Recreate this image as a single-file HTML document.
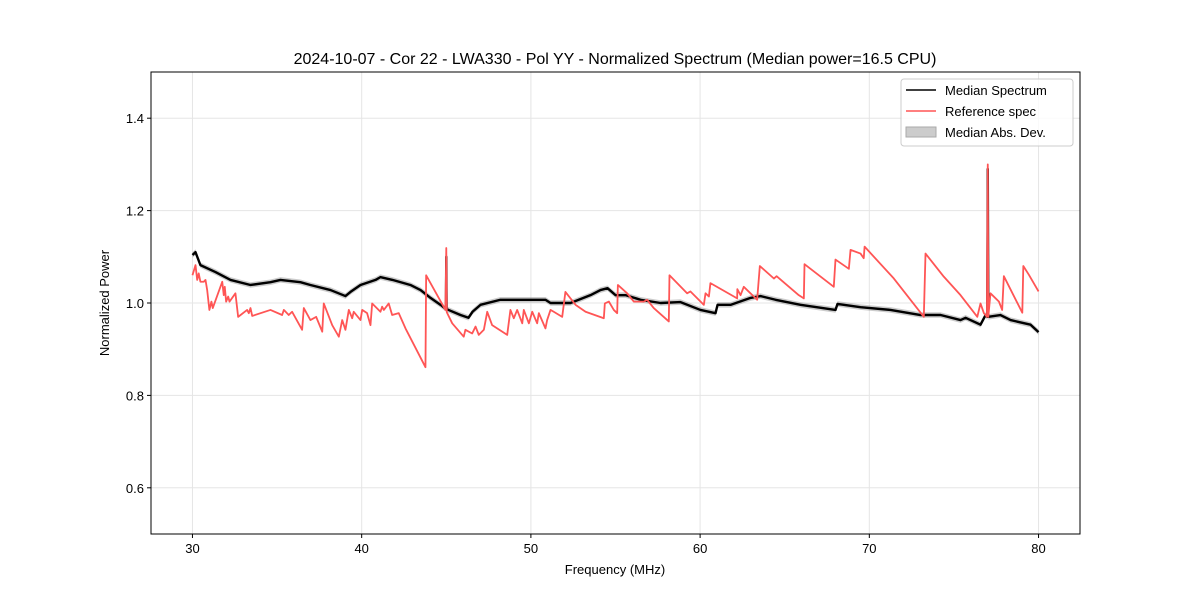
<!DOCTYPE html>
<html><head><meta charset="utf-8"><style>
body{margin:0;background:#fff}
svg text{font-family:"Liberation Sans","DejaVu Sans",sans-serif;fill:#000}
</style></head><body>
<svg id="chart" width="1200" height="600" viewBox="0 0 1200 600">
<rect width="1200" height="600" fill="#fff"/>
<text x="615" y="64" font-size="16" text-anchor="middle">2024-10-07 - Cor 22 - LWA330 - Pol YY - Normalized Spectrum (Median power=16.5 CPU)</text>
<g id="grid"></g><g id="series"></g>
<rect x="151" y="72" width="929" height="462" fill="none" stroke="#000" stroke-width="1"/>
<g id="ticks"></g>
<text x="615" y="574" font-size="13" text-anchor="middle">Frequency (MHz)</text>
<text transform="translate(109,303) rotate(-90)" font-size="13" text-anchor="middle">Normalized Power</text>
<g>
<rect x="901" y="79" width="172" height="67" rx="3" fill="#fff" fill-opacity="0.8" stroke="#ccc"/>
<g><line x1="906" y1="90" x2="936" y2="90" stroke="#000" stroke-width="1.5"/><text x="945" y="95" font-size="13">Median Spectrum</text></g>
<g><line x1="906" y1="111" x2="936" y2="111" stroke="#ff5555" stroke-width="1.5"/><text x="945" y="116" font-size="13">Reference spec</text></g>
<g><rect x="906" y="127" width="30" height="10" fill="#ccc" stroke="#aaa"/><text x="945" y="137" font-size="13">Median Abs. Dev.</text></g>
</g>
</svg>
<script>
const xTicks=[30,40,50,60,70,80];
const yTicks=[0.6,0.8,1.0,1.2,1.4];
const refFreq=[30.0,30.18,30.28,30.37,30.47,30.67,30.77,30.87,31.0,31.12,31.2,31.76,31.85,31.91,31.99,32.11,32.19,32.54,32.70,33.23,33.33,33.43,33.53,34.61,35.30,35.40,35.69,35.89,36.48,36.58,36.97,37.31,37.67,37.76,38.26,38.65,38.85,39.04,39.24,39.44,39.53,39.93,40.03,40.32,40.52,40.62,41.11,41.21,41.31,41.60,41.80,42.19,42.59,43.77,43.81,44.95,45.0,45.03,45.35,46.03,46.13,46.53,46.73,46.92,47.22,47.42,47.71,48.60,48.79,48.99,49.19,49.49,49.58,49.88,50.08,50.37,50.47,50.86,50.96,51.16,51.35,51.85,52.04,52.64,53.23,54.31,54.37,54.61,54.90,55.10,55.14,55.69,56.08,56.67,56.87,57.26,58.15,58.19,59.23,59.43,60.22,60.32,60.52,60.61,62.19,62.20,62.39,62.58,63.37,63.53,64.36,64.52,65.83,66.13,66.17,67.90,68.0,68.79,68.89,69.48,69.67,69.72,71.45,73.22,73.32,74.40,75.39,76.38,76.57,76.77,76.95,77.0,77.03,77.16,77.66,77.85,77.95,79.04,79.10,79.43,80.0];
const refPower=[1.060,1.082,1.050,1.064,1.046,1.046,1.050,1.028,0.985,1.003,0.989,1.046,1.017,1.035,1.003,1.014,1.003,1.021,0.970,0.985,0.978,0.989,0.972,0.985,0.974,0.985,0.974,0.981,0.942,0.989,0.963,0.970,0.938,0.999,0.952,0.927,0.963,0.942,0.985,0.967,0.981,0.963,0.985,0.978,0.952,0.999,0.981,0.992,0.985,0.999,0.974,0.978,0.945,0.861,1.060,0.985,1.119,0.980,0.956,0.927,0.942,0.934,0.949,0.931,0.942,0.981,0.952,0.931,0.985,0.967,0.985,0.956,0.985,0.956,0.981,0.956,0.978,0.945,0.963,0.985,0.981,0.970,1.024,0.996,0.981,0.967,0.999,1.003,0.985,0.978,1.039,1.021,1.003,1.003,1.007,0.989,0.960,1.060,1.021,1.025,0.996,1.021,1.014,1.043,1.010,1.030,1.017,1.035,1.007,1.080,1.053,1.058,1.017,1.010,1.084,1.035,1.094,1.074,1.115,1.107,1.097,1.122,1.053,0.970,1.107,1.057,1.017,0.970,0.999,0.978,0.970,1.300,0.970,1.021,1.003,0.985,1.058,0.979,1.080,1.061,1.025];
const medFreq=[30.0,30.18,30.47,31.36,32.25,33.43,34.61,35.20,36.38,36.97,38.16,39.04,39.34,39.93,40.82,41.11,41.82,42.88,43.48,44.07,44.66,44.98,45.0,45.02,45.13,45.84,46.31,46.55,47.02,48.20,49.39,50.86,51.16,52.34,53.52,54.11,54.53,55.0,55.59,56.48,57.66,58.84,60.02,60.91,61.03,61.80,62.98,63.57,64.46,65.93,68.0,68.12,69.48,71.25,73.03,74.21,75.39,75.69,76.57,76.87,76.97,77.0,77.03,77.75,78.35,79.53,80.0];
const medPower=[1.104,1.110,1.082,1.067,1.050,1.039,1.045,1.050,1.045,1.039,1.028,1.015,1.024,1.039,1.050,1.056,1.050,1.039,1.028,1.011,0.996,0.987,1.100,0.987,0.985,0.974,0.968,0.981,0.996,1.007,1.007,1.007,1.000,1.000,1.017,1.028,1.032,1.017,1.017,1.007,1.000,1.002,0.985,0.978,0.996,0.996,1.011,1.015,1.007,0.996,0.985,0.998,0.991,0.985,0.974,0.974,0.963,0.968,0.953,0.974,0.970,1.290,0.970,0.974,0.963,0.953,0.937];
const madWidth=0.006;
const X0=151,X1=1080,Y0=534,Y1=72,XMIN=27.55,XMAX=82.45,YMIN=0.5,YMAX=1.5;
const sx=v=>X0+(v-XMIN)/(XMAX-XMIN)*(X1-X0);
const sy=v=>Y0-(v-YMIN)/(YMAX-YMIN)*(Y0-Y1);
const NS='http://www.w3.org/2000/svg';
function mk(tag,attrs,parent){const e=document.createElementNS(NS,tag);for(const k in attrs)e.setAttribute(k,attrs[k]);parent.appendChild(e);return e;}
const grid=document.getElementById('grid'),ticks=document.getElementById('ticks'),series=document.getElementById('series');
xTicks.forEach(t=>{const x=sx(t);
 const g=mk('line',{x1:x,x2:x,y1:Y1,y2:Y0,stroke:'#e5e5e5','stroke-width':1},grid);
 
 
 mk('line',{x1:x,x2:x,y1:Y0,y2:Y0+4,stroke:'#000'},ticks);
 const tx=mk('text',{x:x,y:Y0+19,'font-size':13,'text-anchor':'middle'},ticks);tx.textContent=t;
 
 });
yTicks.forEach(t=>{const y=sy(t);
 const g=mk('line',{x1:X0,x2:X1,y1:y,y2:y,stroke:'#e5e5e5','stroke-width':1},grid);
 
 
 mk('line',{x1:X0-4,x2:X0,y1:y,y2:y,stroke:'#000'},ticks);
 const tx=mk('text',{x:X0-7,y:y+5,'font-size':13,'text-anchor':'end'},ticks);tx.textContent=t.toFixed(1);
 
 });
const up=medFreq.map((f,i)=>sx(f)+','+sy(medPower[i]+madWidth));
const dn=medFreq.map((f,i)=>sx(f)+','+sy(medPower[i]-madWidth)).reverse();
const band=mk('polygon',{points:up.concat(dn).join(' '),fill:'#999','fill-opacity':0.5},series);


const med=mk('polyline',{points:medFreq.map((f,i)=>sx(f)+','+sy(medPower[i])).join(' '),fill:'none',stroke:'#000','stroke-width':2.4,'stroke-linejoin':'round'},series);


const ref=mk('polyline',{points:refFreq.map((f,i)=>sx(f)+','+sy(refPower[i])).join(' '),fill:'none',stroke:'#ff5555','stroke-width':1.8,'stroke-linejoin':'round'},series);


</script>
</body></html>
